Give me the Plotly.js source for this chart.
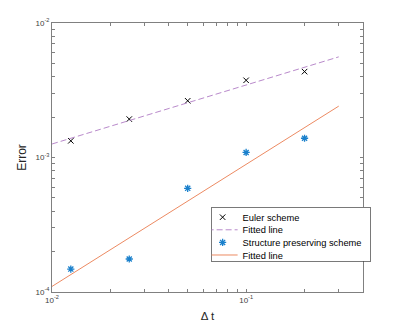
<!DOCTYPE html>
<html>
<head>
<meta charset="utf-8">
<script src="https://cdn.plot.ly/plotly-3.0.1.min.js"></script>
<style>
  html, body { margin: 0; padding: 0; background: #fff; }
  #plot { width: 402px; height: 327px; }
</style>
</head>
<body>
<div id="plot"></div>
<script>
// step sizes
var dt = [0.0125, 0.025, 0.05, 0.1, 0.2];

// Euler scheme errors
var eulerErr = [1.33e-3, 1.93e-3, 2.64e-3, 3.75e-3, 4.35e-3];

// structure preserving scheme errors
var spErr = [1.48e-4, 1.76e-4, 5.9e-4, 1.09e-3, 1.39e-3];

// fitted lines (end points)
var fitX = [0.01, 0.3];
var eulerFit = [1.26e-3, 5.6e-3];
var spFit = [1.1e-4, 2.41e-3];

// ticks: 1..9 per decade, only decades labeled
var xTickVals = [0.01, 0.02, 0.03, 0.04, 0.05, 0.06, 0.07, 0.08, 0.09, 0.1, 0.2, 0.3, 0.4];
var xTickText = ["10<sup>-2</sup>", "", "", "", "", "", "", "", "", "10<sup>-1</sup>", "", "", ""];
var yTickVals = [1e-4, 2e-4, 3e-4, 4e-4, 5e-4, 6e-4, 7e-4, 8e-4, 9e-4,
                 1e-3, 2e-3, 3e-3, 4e-3, 5e-3, 6e-3, 7e-3, 8e-3, 9e-3, 1e-2];
var yTickText = ["10<sup>-4</sup>", "", "", "", "", "", "", "", "",
                 "10<sup>-3</sup>", "", "", "", "", "", "", "", "", "10<sup>-2</sup>"];

var trace1 = {
    x: dt,
    y: eulerErr,
    mode: "markers",
    name: "Euler scheme",
    marker: {symbol: "x-thin-open", size: 5.5, color: "#000000", line: {color: "#000000", width: 1}}
};

var trace2 = {
    x: fitX,
    y: eulerFit,
    mode: "lines",
    name: "Fitted line",
    line: {color: "#b98acb", width: 1, dash: "6px,3px"}
};

var trace3 = {
    x: dt,
    y: spErr,
    mode: "markers",
    name: "Structure preserving scheme",
    marker: {symbol: "asterisk-open", size: 6, color: "#1a80cc", line: {color: "#1a80cc", width: 1.3}}
};

var trace4 = {
    x: fitX,
    y: spFit,
    mode: "lines",
    name: "Fitted line",
    line: {color: "#ec8a62", width: 1}
};

var axisStyle = {
    type: "log",
    showgrid: false,
    zeroline: false,
    showline: true,
    linecolor: "#808080",
    linewidth: 1,
    mirror: "ticks",
    ticks: "inside",
    ticklen: 3,
    tickcolor: "#808080",
    tickfont: {size: 8, color: "#404040"}
};

var layout = {
    width: 402,
    height: 327,
    margin: {l: 52, r: 39, t: 23, b: 35},
    paper_bgcolor: "#ffffff",
    plot_bgcolor: "#ffffff",
    font: {family: "Liberation Sans, Arial, sans-serif", color: "#262626"},
    showlegend: true,
    xaxis: Object.assign({}, axisStyle, {
        range: [Math.log10(0.01), Math.log10(0.4)],
        tickmode: "array",
        tickvals: xTickVals,
        ticktext: xTickText,
        title: {text: "Δ t", font: {size: 11.5}, standoff: 8}
    }),
    yaxis: Object.assign({}, axisStyle, {
        range: [-4, -2],
        tickmode: "array",
        tickvals: yTickVals,
        ticktext: yTickText,
        title: {text: "Error", font: {size: 12}, standoff: 6}
    }),
    legend: {
        x: 0.511,
        y: 0.316,
        xanchor: "left",
        yanchor: "top",
        bgcolor: "#ffffff",
        bordercolor: "#404040",
        borderwidth: 0.7,
        font: {size: 9.3, color: "#000000"},
        itemwidth: 30,
        tracegroupgap: 0
    }
};

// compact legend rows (plotly keeps a minimum row height)
function tightenLegend() {
    var rowH = 12.6;
    var items = document.querySelectorAll("#plot .legend .traces");
    if (items.length < 2) return;
    var ys = [];
    items.forEach(function (g) {
        var m = /translate\(\s*([-\d.]+)[ ,]+([-\d.]+)/.exec(g.getAttribute("transform"));
        ys.push(m ? [parseFloat(m[1]), parseFloat(m[2])] : [0, 0]);
    });
    items.forEach(function (g, i) {
        g.setAttribute("transform", "translate(" + (ys[i][0] - 9) + "," + (ys[0][1] + i * rowH - 5) + ")");
    });
    var bg = document.querySelector("#plot .legend rect.bg");
    if (bg) {
        var w = parseFloat(bg.getAttribute("width"));
        bg.setAttribute("height", 54);
        bg.setAttribute("width", w - 6);
    }
}

Plotly.newPlot("plot", [trace1, trace2, trace3, trace4], layout, {displayModeBar: false, staticPlot: true})
    .then(tightenLegend);
</script>
</body>
</html>
